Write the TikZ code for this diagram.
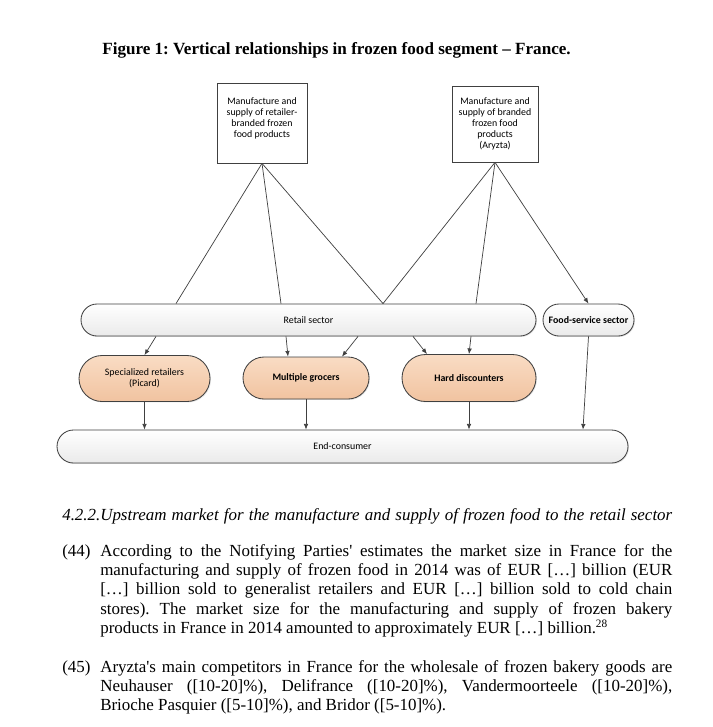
\documentclass[tikz,border=0pt]{standalone}
\usepackage{fontspec}
\setmainfont{Liberation Serif}
\newfontfamily\diagfont{Carlito}
\usetikzlibrary{arrows.meta,shapes.misc,shadows}
\newcommand{\pxu}{0.708pt}
\definecolor{linegray}{RGB}{64,64,64}
\definecolor{peachtop}{RGB}{249,220,196}
\definecolor{peachbot}{RGB}{241,195,160}
\definecolor{capsbot}{RGB}{234,234,234}
\frenchspacing

\begin{document}
\begin{tikzpicture}[x=\pxu, y=-\pxu,
	supplier/.style={draw=linegray, fill=white, line width=0.5pt, inner sep=0pt, align=center, font=\diagfont\fontsize{7}{7.8}\selectfont, drop shadow={shadow xshift=1pt, shadow yshift=-1pt, opacity=0.2}},
	capsule/.style={rounded rectangle, draw=linegray, line width=0.6pt, inner sep=0pt, top color=white, bottom color=capsbot, align=center, font=\diagfont\fontsize{7}{7.8}\selectfont, drop shadow={shadow xshift=0.7pt, shadow yshift=-0.7pt, opacity=0.2}},
	outlet/.style={capsule, top color=peachtop, bottom color=peachbot},
	link/.style={draw=linegray, line width=0.5pt},
	feed/.style={link, -{Latex[length=4pt,width=3.2pt]}},
	body/.style={inner sep=0pt, font=\fontsize{12}{13.8}\selectfont},
	]
		\useasboundingbox (0,0) rectangle (712,727);
		\fill[white] (0,0) rectangle (712,727);
		\node[body, anchor=base, font=\fontsize{12.1}{13.8}\selectfont\bfseries] (caption) at (336.5,54.5) {Figure 1: Vertical relationships in frozen food segment -- France.};
		\node[supplier, minimum width=90*\pxu, minimum height=80*\pxu] (retbrand) at (262,123) {Manufacture and\\supply of retailer-\\branded frozen\\food products\\\mbox{}};
		\node[supplier, minimum width=86*\pxu, minimum height=76*\pxu] (brand) at (495,124) {Manufacture and\\supply of branded\\frozen food\\products\\(Aryzta)};
		\node[capsule, minimum width=455*\pxu, minimum height=32*\pxu] (retail) at (308.5,320) {Retail sector};
		\node[capsule, minimum width=91*\pxu, minimum height=32*\pxu, font=\diagfont\bfseries\fontsize{7}{7.8}\selectfont] (food) at (588.5,320) {Food-service sector};
		\node[outlet, minimum width=131*\pxu, minimum height=46*\pxu] (spec) at (144.5,378.5) {Specialized retailers\\(Picard)};
		\node[outlet, minimum width=126*\pxu, minimum height=42*\pxu, font=\diagfont\bfseries\fontsize{7}{7.8}\selectfont] (grocers) at (306,378) {Multiple grocers};
		\node[outlet, minimum width=134*\pxu, minimum height=47*\pxu, font=\diagfont\bfseries\fontsize{7}{7.8}\selectfont] (hard) at (469,378) {Hard discounters};
		\node[capsule, minimum width=571*\pxu, minimum height=33*\pxu] (consumer) at (342.5,446.5) {End-consumer};
		\draw[link] (retbrand.south) -- (retail.north -| 176,0);
		\draw[link] (retbrand.south) -- (retail.north -| 281,0);
		\draw[link] (retbrand.south) -- (retail.north -| 383,0);
		\draw[link] (brand.south) -- (retail.north -| 383,0);
		\draw[link] (brand.south) -- (retail.north -| 476,0);
		\draw[feed] (brand.south) -- (food.north);
		\draw[feed] (retail.south -| 156,0) -- (spec.north);
		\draw[feed] (retail.south -| 286,0) -- (grocers.north -| 288,0);
		\draw[feed] (retail.south -| 358,0) -- (grocers.north -| 342,0);
		\draw[feed] (retail.south -| 413,0) -- (hard.north -| 427,0);
		\draw[feed] (retail.south -| 471,0) -- (hard.north);
		\draw[feed] (spec.south) -- (consumer.north -| spec.south);
		\draw[feed] (grocers.south) -- (consumer.north -| grocers.south);
		\draw[feed] (hard.south) -- (consumer.north -| hard.south);
		\draw[feed] (food.south) -- (consumer.north -| 583,0);
		\node[body, anchor=base west] (secnum) at (62,520.5) {\itshape 4.2.2.};
		\node[body, anchor=base west] (sectitle) at (100,520.5) {\itshape\spaceskip=3.65pt Upstream market for the manufacture and supply of frozen food to the retail sector};
		\node[body, anchor=base west] (num44) at (62,556) {(44)};
		\node[body, anchor=base west, text width=572*\pxu, align=justify] (para44) at (100,556) {\hyphenpenalty=10000 \tolerance=9999 According to the Notifying Parties\textquotesingle{} estimates the market size in France for the\linebreak{} manufacturing and supply of frozen food in 2014 was of EUR […] billion (EUR\linebreak{} […] billion sold to generalist retailers and EUR […] billion sold to cold chain\linebreak{} stores). The market size for the manufacturing and supply of frozen bakery\linebreak{} products in France in 2014 amounted to approximately EUR […] billion.\textsuperscript{28}};
		\node[body, anchor=base west] (num45) at (62,672) {(45)};
		\node[body, anchor=base west, text width=572*\pxu, align=justify] (para45) at (100,672) {\hyphenpenalty=10000 \tolerance=9999 Aryzta\textquotesingle{}s main competitors in France for the wholesale of frozen bakery goods are\linebreak{} Neuhauser ([10-20]\%), Delifrance ([10-20]\%), Vandermoorteele ([10-20]\%),\linebreak{} Brioche Pasquier ([5-10]\%), and Bridor ([5-10]\%).};
	\end{tikzpicture}
\end{document}
